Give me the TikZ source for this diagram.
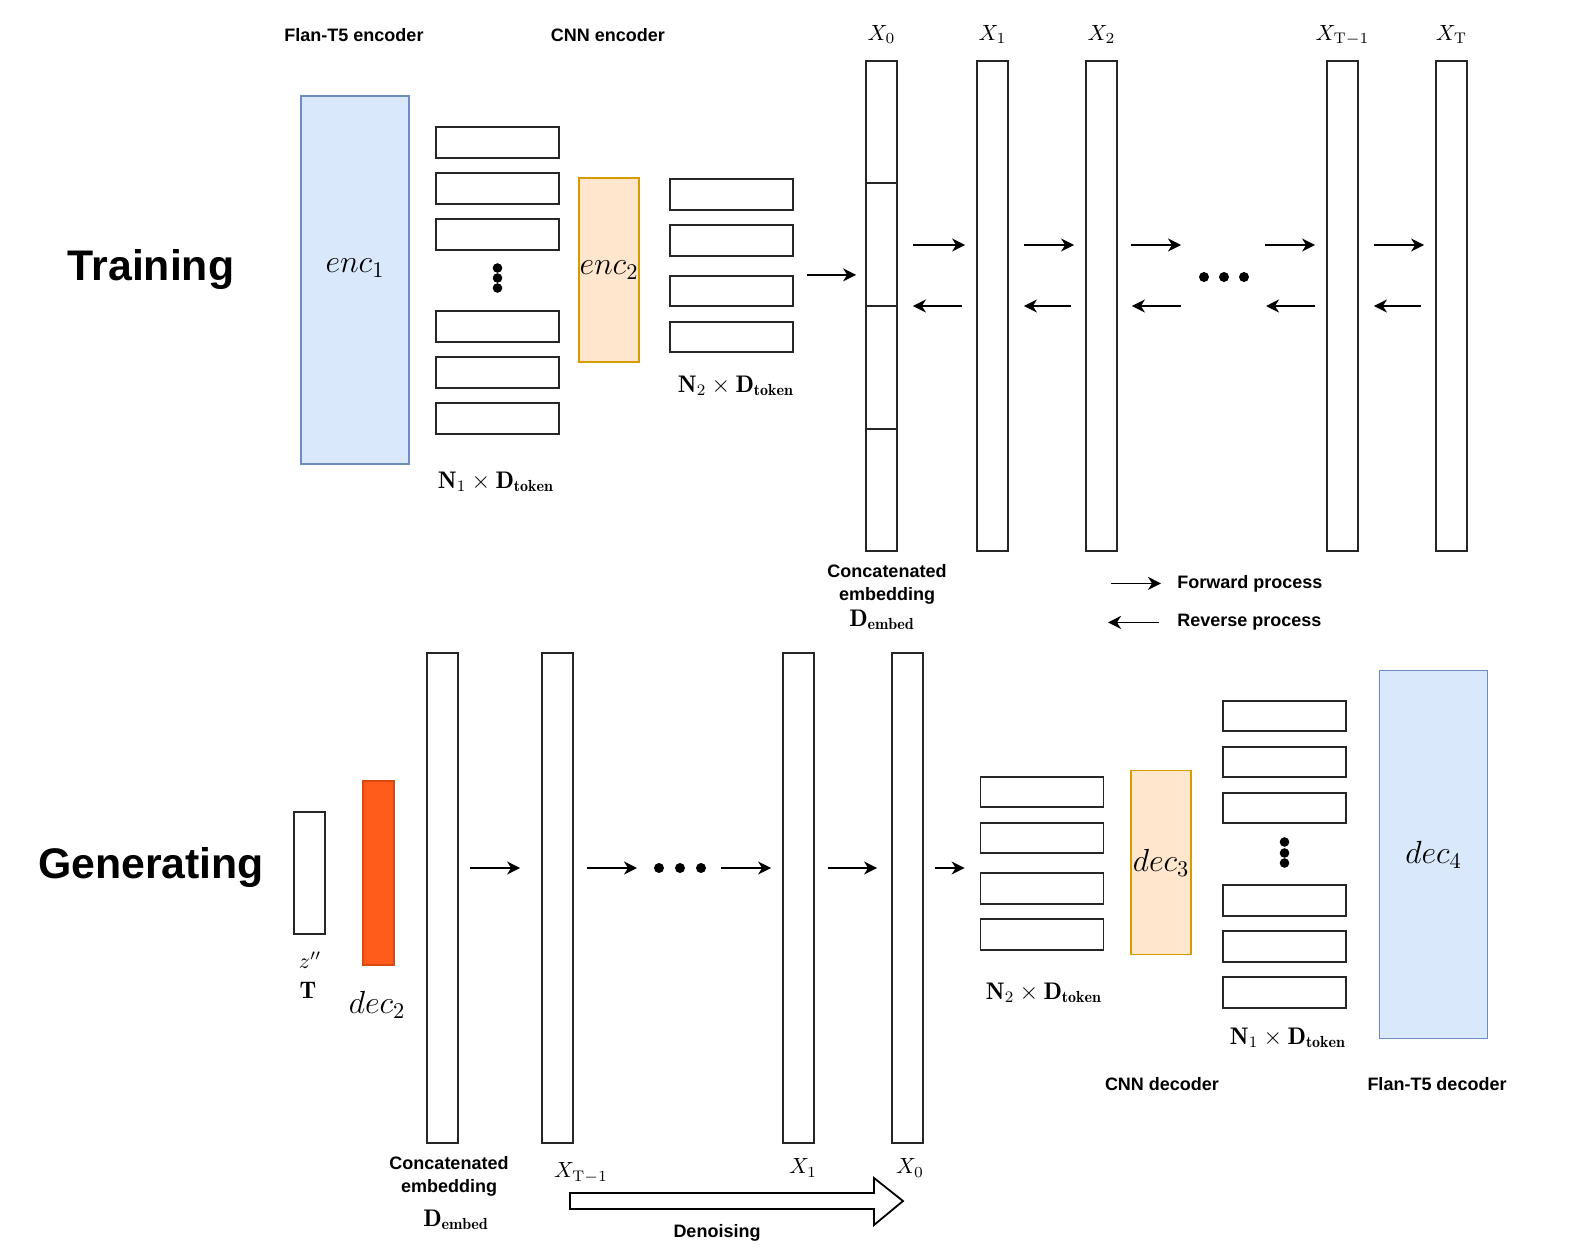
\RequirePackage{fix-cm}
\documentclass[tikz,border=0pt]{standalone}
\usepackage{fontspec}
\newfontfamily\arialf{Liberation Sans}
\usetikzlibrary{positioning,calc,arrows.meta}

\definecolor{tfFill}{HTML}{DAE8FC}
\definecolor{tfLine}{HTML}{6C8EBF}
\definecolor{cnnFill}{HTML}{FFE6CC}
\definecolor{cnnLine}{HTML}{D79B00}
\definecolor{latFill}{HTML}{FF5B1B}
\definecolor{latLine}{HTML}{D9480F}

\tikzset{
  lbl/.style={font=\arialf\bfseries\fontsize{9}{11.5}\selectfont, align=center, inner sep=1pt, yshift=-1.2pt},
  big/.style={font=\arialf\bfseries\fontsize{21.4}{25}\selectfont, inner sep=1pt},
  mth/.style={font=\fontsize{11}{13}\selectfont, inner sep=1pt},
  dim/.style={font=\fontsize{12}{14}\selectfont, inner sep=1pt},
  blk/.style={font=\fontsize{16}{19}\selectfont},
  tok/.style={draw=black!85, line width=0.9pt, minimum width=61.5pt, minimum height=15.25pt, inner sep=0pt},
  col/.style={draw=black!85, line width=0.9pt, minimum width=15.5pt, minimum height=245pt, inner sep=0pt},
  t5/.style={draw=tfLine, fill=tfFill, line width=0.9pt, minimum width=54pt, minimum height=184pt, inner sep=0pt},
  cnn/.style={draw=cnnLine, fill=cnnFill, line width=0.9pt, minimum width=30pt, minimum height=92pt, inner sep=0pt},
  arr/.style={-{Stealth[length=6.5pt,width=6.5pt,inset=2pt]}, line width=0.9pt},
}

\begin{document}
\begin{tikzpicture}[x=0.5pt, y=-0.5pt]
\useasboundingbox (0,0) rectangle (1570,1253);

% ---------- Training ----------
\node[big] (train) at (151,270) {Training};

\node[t5] (enc1) at (355,280) {};
\node[blk] (enc1txt) at ([yshift=6pt]enc1.center) {$enc_1$};
\node[lbl] (ft5enc) at (354,33) {Flan-T5 encoder};

\foreach \y [count=\i] in {142.5,188.5,234.5,326.5,372.5,418.5}
  \node[tok] (tA\i) at (497.5,\y) {};
\foreach \y in {268,278,288}
  \fill (497.5,\y) circle (2.4pt);
\node[dim] (nA) at (496,482) {$\mathbf{N}_1\times\mathbf{D}_{\mathbf{token}}$};

\node[cnn, blk] (enc2) at (609,270) {$enc_2$};
\node[lbl] (cnnenc) at (608,33) {CNN encoder};

\foreach \y [count=\i] in {194.5,240.5,291,337}
  \node[tok] (tB\i) at (731.5,\y) {};
\node[dim] (nB) at (736,386) {$\mathbf{N}_2\times\mathbf{D}_{\mathbf{token}}$};

% noising chain
\foreach \x/\n in {881.5/x0, 992.5/x1, 1101.5/x2, 1342.5/xTm, 1451.5/xT}
  \node[col] (\n) at (\x,306) {};
\foreach \f in {0.25,0.5,0.75}
  \draw[line width=0.9pt, black!85] ($(x0.north west)!\f!(x0.south west)$) -- ($(x0.north east)!\f!(x0.south east)$);

\node[mth, above=7pt of x0] {$X_0$};
\node[mth, above=7pt of x1] {$X_1$};
\node[mth, above=7pt of x2] {$X_2$};
\node[mth, above=6pt of xTm] {$X_{\mathrm{T}-1}$};
\node[mth, above=7pt of xT] {$X_{\mathrm{T}}$};

\coordinate (dotsT) at (1224,277);
\foreach \dx in {-20,0,20}
  \fill ($(dotsT)+(\dx,0)$) circle (2.5pt);

\draw[arr, shorten <=6.5pt, shorten >=4.5pt] (tB3.north east) -- (tB3.north east -| x0.west);

\foreach \a/\b in {x0/x1, x1/x2, xTm/xT} {
  \draw[arr, shorten <=7.5pt, shorten >=5.5pt] ([yshift=30.5pt]\a.east) -- ([yshift=30.5pt]\b.west);
  \draw[arr, shorten <=7pt, shorten >=7.5pt] (\b.west) -- (\a.east);
}
\draw[arr, shorten <=6.5pt, shorten >=21.5pt] ([yshift=30.5pt]x2.east) -- ([yshift=16pt]dotsT);
\draw[arr, shorten <=20.5pt, shorten >=5.5pt] ([yshift=16pt]dotsT) -- ([yshift=30.5pt]xTm.west);
\draw[arr, shorten <=21.5pt, shorten >=7pt] ([yshift=-14.5pt]dotsT) -- (x2.east);
\draw[arr, shorten <=5.5pt, shorten >=21pt] (xTm.west) -- ([yshift=-14.5pt]dotsT);

\node[lbl] (catA) at (887,581.5) {Concatenated\\embedding};
\node[dim] (dA) at (882,620) {$\mathbf{D}_{\mathbf{embed}}$};

% legend
\node[lbl, anchor=west] (fwdtxt) at (1175,581) {Forward process};
\node[lbl, anchor=west] (revtxt) at (1175,620) {Reverse process};
\draw[arr] ([xshift=-32pt]fwdtxt.west) -- ([xshift=-7pt]fwdtxt.west);
\draw[arr] ([xshift=-8pt]revtxt.west) -- ([xshift=-33.5pt]revtxt.west);

% ---------- Generating ----------
\node[big] (gen) at (151,868) {Generating};

\node[draw=black!85, line width=0.9pt, minimum width=15.5pt, minimum height=61pt, inner sep=0pt] (zT) at (309.5,873) {};
\node[mth] (zlbl) at (310,960) {$z''$};
\node[dim] (Tlbl) at (308,990) {$\mathbf{T}$};

\node[draw=latLine, fill=latFill, line width=0.9pt, minimum width=15.5pt, minimum height=92pt, inner sep=0pt] (dec2) at (378.5,873) {};
\node[blk] (dec2txt) at (377,1005) {$dec_2$};

\foreach \x/\n in {442.5/gc, 557.5/gTm, 798.5/g1, 907.5/g0}
  \node[col] (\n) at (\x,898) {};

\node[lbl] (catB) at (449,1173.5) {Concatenated\\embedding};
\node[dim] (dB) at (456,1220) {$\mathbf{D}_{\mathbf{embed}}$};
\node[mth] at (581,1173) {$X_{\mathrm{T}-1}$};
\node[mth] at (803,1168) {$X_1$};
\node[mth] at (910,1168) {$X_0$};

\coordinate (dotsB) at (680,868);
\foreach \dx in {-21,0,21}
  \fill ($(dotsB)+(\dx,0)$) circle (2.5pt);

\draw[arr, shorten <=5.5pt, shorten >=10.5pt] ([yshift=15pt]gc.east) -- ([yshift=15pt]gTm.west);
\draw[arr, shorten <=6.5pt, shorten >=21.5pt] ([yshift=15pt]gTm.east) -- (dotsB);
\draw[arr, shorten <=20.5pt, shorten >=5.5pt] (dotsB) -- ([yshift=15pt]g1.west);
\draw[arr, shorten <=6.5pt, shorten >=7pt] ([yshift=15pt]g1.east) -- ([yshift=15pt]g0.west);

% denoising arrow
\draw[line width=0.9pt] (570,1193) -- (874,1193) -- (874,1178) -- (903,1201)
  -- (874,1225) -- (874,1209) -- (570,1209) -- cycle;
\node[lbl] (denoise) at (717,1230) {Denoising};

\foreach \y [count=\i] in {792,838,888.5,934.5}
  \node[tok] (tC\i) at (1042,\y) {};
\node[dim] (nC) at (1044,993) {$\mathbf{N}_2\times\mathbf{D}_{\mathbf{token}}$};
\draw[arr, shorten <=5.5pt, shorten >=7.5pt] ([yshift=15pt]g0.east) -- ([yshift=15pt]g0.east -| tC3.west);

\node[cnn, blk] (dec3) at (1161,862.5) {$dec_3$};
\node[lbl] (cnndec) at (1162,1082) {CNN decoder};

\foreach \y [count=\i] in {716,762,808,900.5,946.5,992.5}
  \node[tok] (tD\i) at (1284.5,\y) {};
\foreach \y in {842,853,863}
  \fill (1284.5,\y) circle (2.4pt);
\node[dim] (nD) at (1288,1038) {$\mathbf{N}_1\times\mathbf{D}_{\mathbf{token}}$};

\node[t5, blk] (dec4) at (1433.5,854.5) {$dec_4$};
\node[lbl] (ft5dec) at (1437,1082) {Flan-T5 decoder};

\end{tikzpicture}
\end{document}
